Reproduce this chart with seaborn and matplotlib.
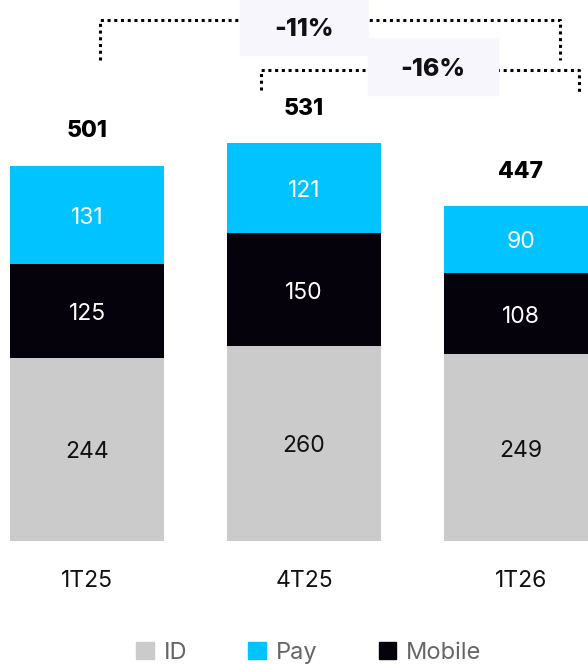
import pandas as pd
import numpy as np
import matplotlib.pyplot as plt
import matplotlib.patches as mpatches
import seaborn as sns

# ── data ────────────────────────────────────────────────────
periods = ['1T25', '4T25', '1T26']
id_vals = [244, 260, 249]
mobile_vals = [125, 150, 108]
pay_vals = [131, 121, 90]
totals = [501, 531, 447]
changes = ['-11%', '-16%']

sns.set_style("white")
plt.rcParams['font.family'] = ['Inter', 'DejaVu Sans']

c_id, c_pay, c_mob = '#cbcbcb', '#00c3ff', '#05020c'

df = pd.DataFrame({'period': periods, 'ID': id_vals,
                   'Mobile': mobile_vals, 'Pay': pay_vals})
df['lvl_mob'] = df['ID'] + df['Mobile']
df['lvl_pay'] = df['lvl_mob'] + df['Pay']

fig = plt.figure(figsize=(5.88, 6.64), dpi=100)
ax = fig.add_axes([0, 0, 1, 1])

# stacked bars: draw cumulative levels from top to bottom
sns.barplot(data=df, x='period', y='lvl_pay', color=c_pay, width=0.71,
            linewidth=0, saturation=1, ax=ax)
sns.barplot(data=df, x='period', y='lvl_mob', color=c_mob, width=0.71,
            linewidth=0, saturation=1, ax=ax)
sns.barplot(data=df, x='period', y='ID', color=c_id, width=0.71,
            linewidth=0, saturation=1, ax=ax)

ax.set_xlim(-0.401, 2.309)
ax.set_ylim(-164, 721.3)
ax.axis('off')

fs = 16.5
off = -4  # labels sit slightly below the segment centre
for i, row in df.iterrows():
    ax.text(i, row['ID'] / 2 + off, f"{row['ID']}", ha='center', va='center',
            fontsize=fs, color='#111111')
    ax.text(i, row['ID'] + row['Mobile'] / 2 + off, f"{row['Mobile']}",
            ha='center', va='center', fontsize=fs, color='white')
    ax.text(i, row['lvl_mob'] + row['Pay'] / 2 + off, f"{row['Pay']}",
            ha='center', va='center', fontsize=fs, color='white')
    ax.text(i, totals[i] + 45, f"{totals[i]}", ha='center', va='center',
            fontsize=fs, fontweight='heavy', color='black')
    ax.text(i, -54, periods[i], ha='center', va='center',
            fontsize=fs, color='#111111')

# comparison brackets
def px2x(px):
    return (px - 87) / 217

def py2y(py):
    return (541 - py) / 0.75

dot = dict(color='black', linestyle=(0, (1, 1.2)), linewidth=2.2)

# 1T25 -> 1T26
ax.plot([px2x(100), px2x(100), px2x(560), px2x(560)],
        [py2y(60), py2y(20), py2y(20), py2y(60)], **dot)
# 4T25 -> 1T26
ax.plot([px2x(261), px2x(261), px2x(579), px2x(579)],
        [py2y(90), py2y(70), py2y(70), py2y(92)], **dot)

box_col = '#f8f6fd'
ax.add_patch(mpatches.Rectangle((px2x(240), py2y(55)), 128 / 217, 55 / 0.75,
                                color=box_col, zorder=3))
ax.add_patch(mpatches.Rectangle((px2x(368), py2y(95)), 130 / 217, 57 / 0.75,
                                color=box_col, zorder=3))
ax.text(px2x(304), py2y(30), changes[0], ha='center', va='center',
        fontsize=18, fontweight='heavy', color='#111111', zorder=4)
ax.text(px2x(433), py2y(70), changes[1], ha='center', va='center',
        fontsize=18, fontweight='heavy', color='#111111', zorder=4)

# legend
handles = [mpatches.Patch(color=c_id, label='ID'),
           mpatches.Patch(color=c_pay, label='Pay'),
           mpatches.Patch(color=c_mob, label='Mobile')]
leg = fig.legend(handles=handles, loc='center', bbox_to_anchor=(0.525, 0.017),
                 ncol=3, frameon=False, fontsize=17, handlelength=0.75,
                 handleheight=0.75, handletextpad=0.4, columnspacing=2.6)
for t in leg.get_texts():
    t.set_color('#666666')

plt.savefig('out.png', dpi=100)
